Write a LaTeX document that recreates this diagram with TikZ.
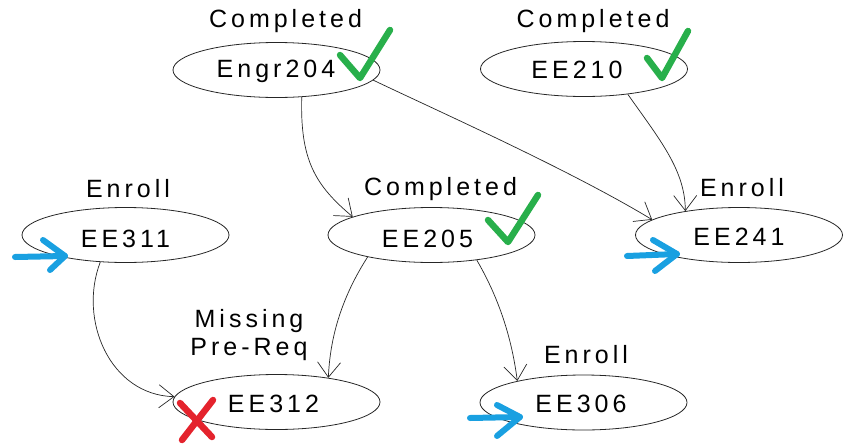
\documentclass[tikz,border=0pt]{standalone}
\usepackage{fontspec}
\setmainfont{Liberation Sans}[LetterSpace=16]
\usetikzlibrary{arrows.meta,shapes.geometric}
\definecolor{okgreen}{RGB}{40,175,75}
\definecolor{goblue}{RGB}{25,160,225}
\definecolor{badred}{RGB}{228,35,45}
\begin{document}
\begin{tikzpicture}[x=1pt,y=-1pt,
  course/.style={ellipse,draw=black!85,line width=0.8pt,inner sep=0pt,
                 minimum width=207pt,minimum height=55pt},
  ctext/.style={anchor=base,inner sep=0pt,font=\fontsize{25}{28}\selectfont},
  status/.style={anchor=base,inner sep=0pt,align=center,font=\fontsize{25}{28}\selectfont},
  prereq/.style={draw=black!85,line width=0.7pt,-{Straight Barb[length=15pt,width=23pt]}},
  tick/.style={draw=okgreen,line width=6.5pt,line cap=round,line join=round},
  cue/.style={draw=goblue,line width=6pt,line cap=round,line join=round},
  cross/.style={draw=badred,line width=6.5pt,line cap=round}]
\useasboundingbox (0,0) rectangle (844,445);

% course ellipses
\node[course] (e204) at (276.5,70) {};
\node[course] (e210) at (584,69) {};
\node[course] (e311) at (125.5,235) {};
\node[course] (e205) at (431.5,235) {};
\node[course] (e241) at (739,235) {};
\node[course] (e312) at (276.5,402) {};
\node[course] (e306) at (583.5,402.5) {};

% course names
\node[ctext] (n204) at (276,77) {Engr204};
\node[ctext] (n210) at (577,78) {EE210};
\node[ctext] (n311) at (125.5,247) {EE311};
\node[ctext] (n205) at (427.5,247) {EE205};
\node[ctext] (n241) at (739,245) {EE241};
\node[ctext] (n312) at (273.5,412) {EE312};
\node[ctext] (n306) at (581,412) {EE306};

% status labels (a two-line label sits on the baseline of its last line)
\node[status] (s204) at (285.5,27) {Completed};
\node[status] (s210) at (593,27) {Completed};
\node[status] (s311) at (128,197) {Enroll};
\node[status] (s205) at (440.5,195) {Completed};
\node[status] (s241) at (742,196) {Enroll};
\node[status] (s312) at (249,355) {Missing\\Pre-Req};
\node[status] (s306) at (586,363) {Enroll};

% prerequisite links
\draw[prereq] (e204.-47) .. controls (300,160) and (315,185) .. (e205.167);
\draw[prereq] (e204.-6) .. controls (440,112) and (570,170) .. (e241.170);
\draw[prereq] (e210.-30) .. controls (660,140) and (685,170) .. (e241.156);
\draw[prereq] (e311.-133) .. controls (78,320) and (110,395) .. (e312.177);
\draw[prereq] (e205.-161) .. controls (340,300) and (330,340) .. (e312.25);
\draw[prereq] (e205.-29) .. controls (500,300) and (512,340) .. (e306.162);

% completed ticks
\draw[tick] (340,55) -- (360,78) -- (390,30);
\draw[tick] (647,58) -- (662,78) -- (688,31);
\draw[tick] (488,220) -- (508,242) -- (538,195);

% enroll cues
\draw[cue] (15,257) -- (65,256);
\draw[cue] (43,240) -- (65,256) -- (50,270);
\draw[cue] (627,256) -- (677,254);
\draw[cue] (653,240) -- (677,254) -- (655,271);
\draw[cue] (470,418) -- (520,417);
\draw[cue] (497,405) -- (520,417) -- (497,436);

% missing prerequisite mark
\draw[cross] (180,403) -- (212,437);
\draw[cross] (213,400) -- (182,440);
\end{tikzpicture}
\end{document}
